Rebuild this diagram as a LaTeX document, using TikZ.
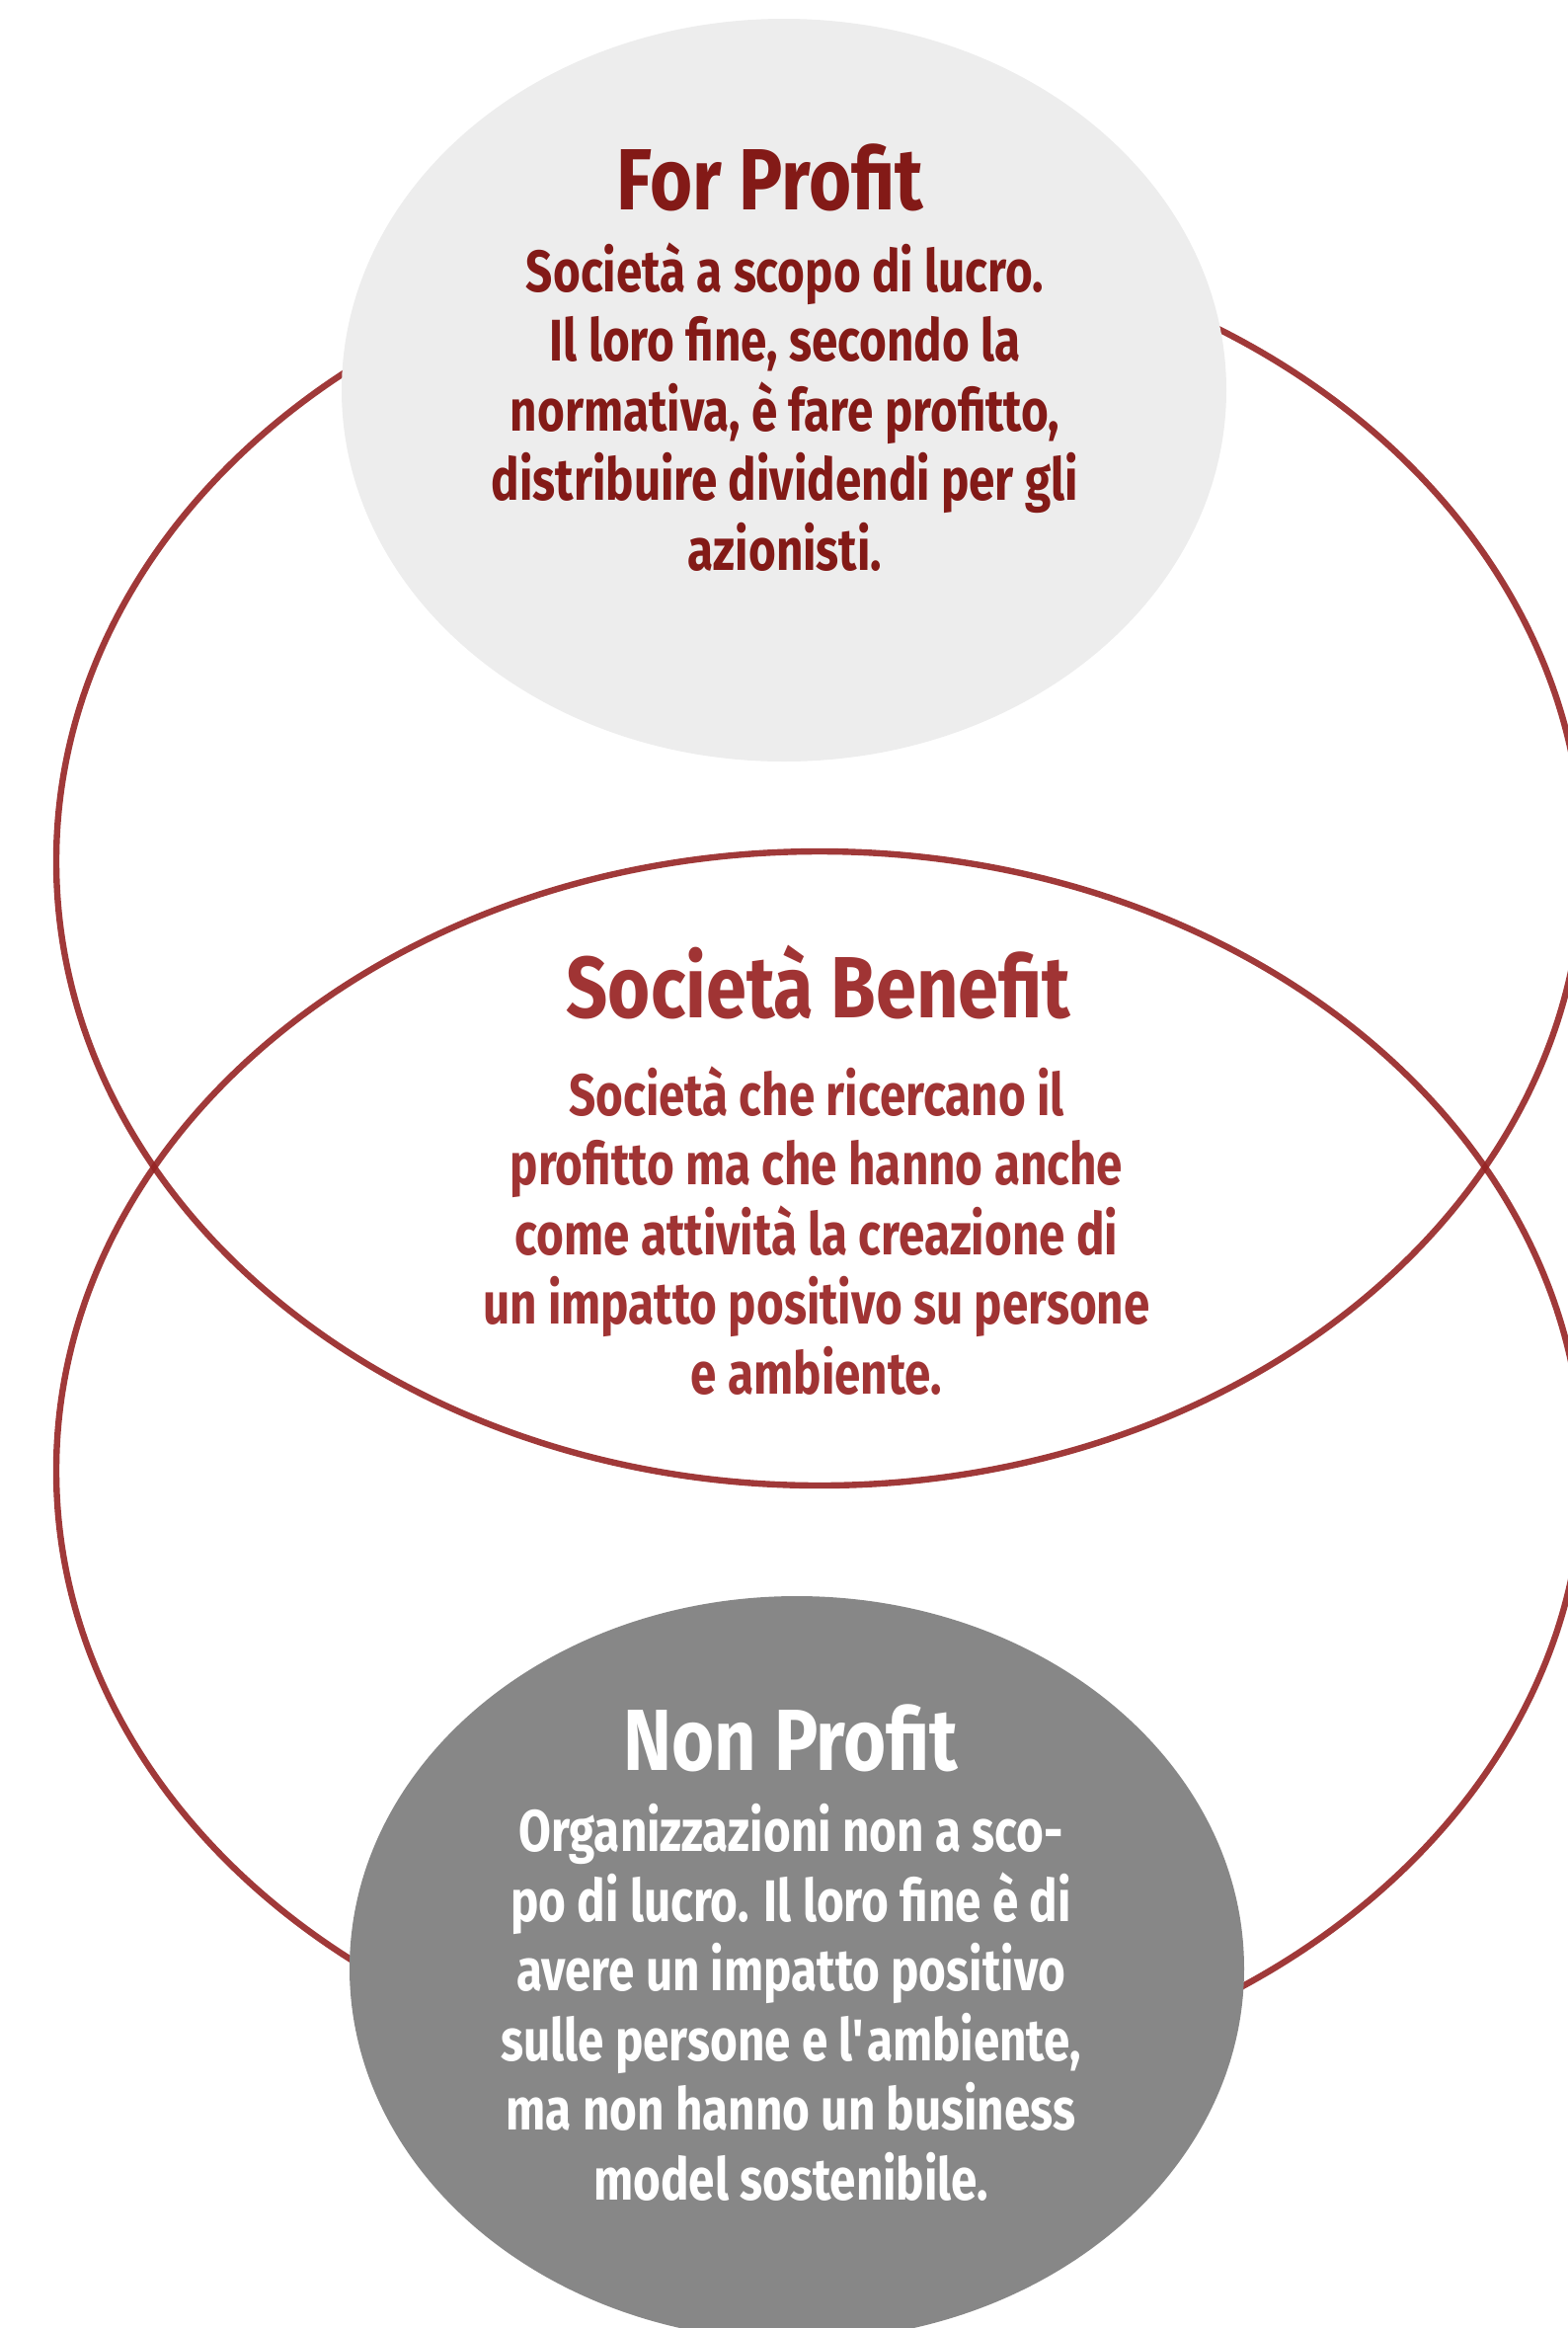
\documentclass[tikz,border=0pt]{standalone}
\usepackage{fontspec}
\setmainfont{Fira Sans}[FakeStretch=0.8]
\newfontfamily\titlefamily{Fira Sans}[FakeStretch=0.84]
\usetikzlibrary{shapes.geometric}

\definecolor{ringred}{HTML}{962323}
\definecolor{forred}{HTML}{831A17}
\definecolor{benred}{HTML}{A03434}
\definecolor{forgray}{HTML}{EDEDED}
\definecolor{nongray}{HTML}{878787}

\newcommand{\titlefont}{\titlefamily\bfseries\fontsize{44}{50}\selectfont}
\newcommand{\bodyfont}{\bfseries\fontsize{29.75}{35.25}\selectfont}

\begin{document}
\begin{tikzpicture}[x=0.5pt,y=-0.5pt]

      \useasboundingbox (0,0) rectangle (1588,2357);

      % the two rings of the Venn diagram
      \begin{scope}[every node/.style={ellipse, draw=ringred, draw opacity=.9,
          line width=3.2pt, inner sep=0pt, minimum width=773pt}]
        \node[minimum height=632pt] (ringfor) at (830,872)  {};
        \node[minimum height=627pt] (ringnon) at (830,1489) {};
      \end{scope}

      % filled caps
      \begin{scope}[every node/.style={ellipse, inner sep=0pt}]
        \node[fill=forgray, minimum width=448pt, minimum height=376pt] (for) at (794,395)  {};
        \node[fill=nongray, minimum width=453pt, minimum height=377pt] (non) at (807,1993) {};
      \end{scope}

      % texts, placed at the baseline of their last line
      \begin{scope}[every node/.style={align=center, inner sep=0pt, anchor=base}]
        \node[text=forred, font=\titlefont] (fortitle) at (780,212) {For Profit};
        \node[text=forred, font=\bodyfont] (fortext) at (795,577)
          {Società a scopo di lucro.\\ Il loro fine, secondo la\\ normativa, è fare profitto,\\
           distribuire dividendi per gli\\ azionisti.};

        \node[text=benred, font=\titlefont] (bentitle) at (829,1030) {Società Benefit};
        \node[text=benred, font=\bodyfont] (bentext) at (827,1411)
          {Società che ricercano il\\ profitto ma che hanno anche\\ come attività la creazione di\\
           un impatto positivo su persone\\ e ambiente.};

        \node[text=white, font=\titlefont] (nontitle) at (801,1792) {Non Profit};
        \node[text=white, font=\bodyfont] (nontext) at (801,2227)
          {Organizzazioni non a sco-\\ po di lucro. Il loro fine è di\\ avere un impatto positivo\\
           sulle persone e l\textquotesingle ambiente,\\ ma non hanno un business\\ model sostenibile.};
      \end{scope}

    \end{tikzpicture}
\end{document}
